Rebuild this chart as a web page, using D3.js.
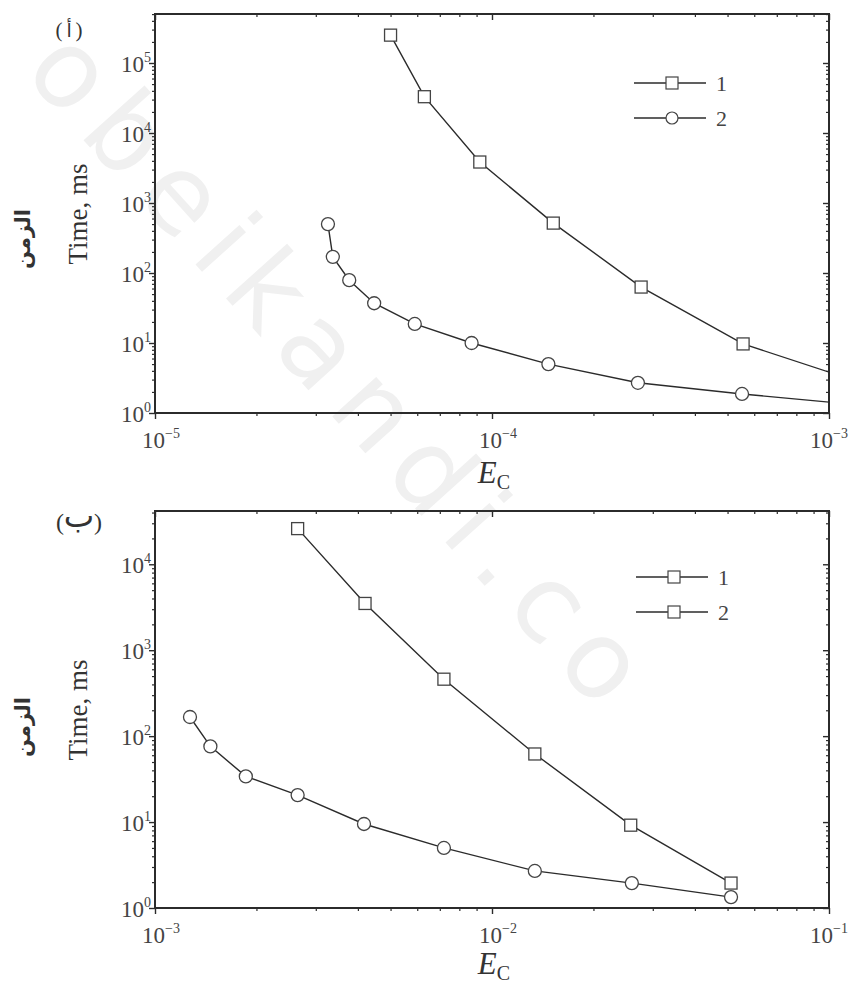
<!DOCTYPE html>
<html>
<head>
<meta charset="utf-8">
<script src="https://cdn.jsdelivr.net/npm/d3@7"></script>
<style>
  body { margin: 0; background: #fff; }
  svg { display: block; }
</style>
</head>
<body>
<svg id="chart"></svg>
<script>
// panel (a) — E_C vs time
const topEc1   = [5.0e-5, 6.3e-5, 9.2e-5, 1.52e-4, 2.77e-4, 5.56e-4, 1.1e-3];
const topTime1 = [2.5e5, 3.3e4, 3.85e3, 516, 63, 9.7, 3.3];
const topEc2   = [3.26e-5, 3.37e-5, 3.77e-5, 4.47e-5, 5.9e-5, 8.7e-5, 1.47e-4, 2.71e-4, 5.52e-4, 1.1e-3];
const topTime2 = [500, 170, 79, 37, 18.7, 10, 5.0, 2.7, 1.87, 1.37];

// panel (b)
const botEc1   = [2.65e-3, 4.2e-3, 7.2e-3, 1.34e-2, 2.58e-2, 5.12e-2];
const botTime1 = [2.6e4, 3.5e3, 460, 62, 9.2, 1.95];
const botEc2   = [1.27e-3, 1.46e-3, 1.86e-3, 2.65e-3, 4.17e-3, 7.2e-3, 1.34e-2, 2.6e-2, 5.12e-2];
const botTime2 = [167, 76, 34, 20.6, 9.5, 5.0, 2.7, 1.95, 1.34];

const legendLabels = ["1", "2"];

const width = 850, height = 987;
const svg = d3.select("#chart").attr("width", width).attr("height", height);

// watermark
svg.append("text")
  .attr("transform", "translate(22,72) rotate(48)")
  .attr("font-family", "DejaVu Sans, sans-serif")
  .attr("font-size", 108)
  .attr("letter-spacing", 16)
  .attr("fill", "#f0f0f0")
  .text("obeikandi.co");

const ink = "#2b2b2b";
const serif = "Liberation Serif, Times New Roman, serif";

function supLabel(sel, exp) {
  sel.append("tspan").text("10");
  sel.append("tspan").attr("font-size", 14).attr("dy", -10).text(exp);
}

function drawPanel(p) {
  const x = d3.scaleLog().domain(p.xDomain).range([p.left, p.right]);
  const y = d3.scaleLog().domain(p.yDomain).range([p.bottom, p.top]);
  const g = svg.append("g");

  const id = "clip" + p.name;
  svg.append("clipPath").attr("id", id).append("rect")
    .attr("x", p.left).attr("y", p.top)
    .attr("width", p.right - p.left).attr("height", p.bottom - p.top);

  const isMajor = v => Math.abs(Math.log10(v) - Math.round(Math.log10(v))) < 1e-6;
  const xt = x.ticks(), yt = y.ticks();
  const xMajor = xt.filter(isMajor), xMinor = xt.filter(v => !isMajor(v));
  const yMajor = yt.filter(isMajor), yMinor = yt.filter(v => !isMajor(v));

  const axes = [
    [d3.axisBottom(x), p.bottom, "x", 6, 3],
    [d3.axisTop(x), p.top, "x", -6, -3],
    [d3.axisLeft(y), p.left, "y", 6, 3],
    [d3.axisRight(y), p.right, "y", -6, -3]
  ];
  axes.forEach(([ax, pos, dim, big, small]) => {
    const major = dim === "x" ? xMajor : yMajor;
    const minor = dim === "x" ? xMinor : yMinor;
    const tr = dim === "x" ? `translate(0,${pos})` : `translate(${pos},0)`;
    g.append("g").attr("transform", tr)
      .call(ax.tickValues(minor).tickSize(small).tickFormat(""))
      .call(s => s.select(".domain").remove())
      .call(s => s.selectAll("line").attr("stroke", ink).attr("stroke-width", 1.2));
    g.append("g").attr("transform", tr)
      .call(ax.tickValues(major).tickSize(big).tickFormat(""))
      .call(s => s.select(".domain").remove())
      .call(s => s.selectAll("line").attr("stroke", ink).attr("stroke-width", 1.4));
  });

  g.append("rect")
    .attr("x", p.left).attr("y", p.top)
    .attr("width", p.right - p.left).attr("height", p.bottom - p.top)
    .attr("fill", "none").attr("stroke", ink).attr("stroke-width", 2);

  // tick labels (last one pushed inside the page edge)
  xMajor.forEach((v, i) => {
    const last = i === xMajor.length - 1;
    const t = g.append("text")
      .attr("x", last ? width - 2 : x(v) + 6).attr("y", p.bottom + 35)
      .attr("text-anchor", last ? "end" : "middle").attr("font-family", serif)
      .attr("font-size", 23).attr("fill", "#444");
    supLabel(t, String(Math.round(Math.log10(v))).replace("-", "\u2212"));
  });
  yMajor.forEach(v => {
    const t = g.append("text").attr("x", p.left - 4).attr("y", y(v) + 9)
      .attr("text-anchor", "end").attr("font-family", serif)
      .attr("font-size", 23).attr("fill", "#444");
    supLabel(t, String(Math.round(Math.log10(v))));
  });

  // axis titles
  const xl = g.append("text").attr("x", (p.left + p.right) / 2 + 2).attr("y", p.xTitleY)
    .attr("text-anchor", "middle").attr("font-family", serif).attr("fill", "#333");
  xl.append("tspan").attr("font-size", 31).attr("font-style", "italic").text("E");
  xl.append("tspan").attr("font-size", 20).attr("dy", 6).text("C");

  g.append("text")
    .attr("transform", `translate(87,${p.yTitleMid}) rotate(-90)`)
    .attr("text-anchor", "middle").attr("font-family", serif)
    .attr("font-size", 27).attr("fill", "#333").text("Time, ms");
  g.append("text")
    .attr("transform", `translate(30,${p.arMid}) rotate(-90)`)
    .attr("text-anchor", "middle").attr("font-family", "DejaVu Sans, sans-serif")
    .attr("font-weight", "bold").attr("font-size", 21).attr("fill", "#333").text("الزمن");

  // panel tag: brackets drawn apart from the letter so bidi doesn't move them
  const tag = g.append("g").attr("font-family", serif).attr("fill", "#333")
    .attr("font-size", p.tagSize);
  tag.append("text").attr("x", p.tagX - p.tagGap).attr("y", p.tagY)
    .attr("text-anchor", "middle").text("(");
  tag.append("text").attr("x", p.tagX).attr("y", p.tagY + p.tagDy)
    .attr("text-anchor", "middle").attr("font-family", "DejaVu Sans, sans-serif")
    .attr("font-size", p.tagSize * p.tagScale).text(p.tag);
  tag.append("text").attr("x", p.tagX + p.tagGap).attr("y", p.tagY)
    .attr("text-anchor", "middle").text(")");

  // series
  const line = d3.line().x(d => x(d[0])).y(d => y(d[1]));
  const plot = g.append("g").attr("clip-path", `url(#${id})`);
  p.series.forEach(s => {
    const pts = d3.zip(s.ec, s.time);
    plot.append("path").datum(pts).attr("d", line)
      .attr("fill", "none").attr("stroke", ink).attr("stroke-width", 1.4);
    const m = plot.selectAll(null).data(pts).enter();
    if (s.shape === "square") {
      m.append("rect")
        .attr("x", d => x(d[0]) - 6).attr("y", d => y(d[1]) - 6)
        .attr("width", 12).attr("height", 12)
        .attr("fill", "#fff").attr("stroke", "#444").attr("stroke-width", 1.3);
    } else {
      m.append("circle")
        .attr("cx", d => x(d[0])).attr("cy", d => y(d[1])).attr("r", 6.5)
        .attr("fill", "#fff").attr("stroke", "#444").attr("stroke-width", 1.3);
    }
  });

  // legend
  const lg = g.append("g").attr("transform", `translate(${p.legX},${p.legY})`);
  legendLabels.forEach((lab, i) => {
    const yy = i * 35;
    lg.append("line").attr("x1", 0).attr("x2", 72).attr("y1", yy).attr("y2", yy)
      .attr("stroke", ink).attr("stroke-width", 1.3);
    if (p.legendShapes[i] === "square") {
      lg.append("rect").attr("x", 32).attr("y", yy - 6).attr("width", 12).attr("height", 12)
        .attr("fill", "#fff").attr("stroke", "#444").attr("stroke-width", 1.2);
    } else {
      lg.append("circle").attr("cx", 38).attr("cy", yy).attr("r", 6)
        .attr("fill", "#fff").attr("stroke", "#444").attr("stroke-width", 1.2);
    }
    lg.append("text").attr("x", 82).attr("y", yy + 8)
      .attr("font-family", serif).attr("font-size", 22).attr("fill", "#444").text(lab);
  });
}

drawPanel({
  name: "a", left: 155, right: 829, top: 14, bottom: 413,
  xDomain: [1e-5, 1e-3], yDomain: [1, Math.pow(10, 5.7)],
  xTitleY: 483, yTitleMid: 214, arMid: 239,
  tag: "أ", tagX: 69, tagY: 37, tagSize: 21, tagGap: 10, tagScale: 0.9, tagDy: 0,
  legX: 634, legY: 83, legendShapes: ["square", "circle"],
  series: [
    { ec: topEc1, time: topTime1, shape: "square" },
    { ec: topEc2, time: topTime2, shape: "circle" }
  ]
});

drawPanel({
  name: "b", left: 155, right: 829, top: 511, bottom: 908,
  xDomain: [1e-3, 1e-1], yDomain: [1, Math.pow(10, 4.62)],
  xTitleY: 974, yTitleMid: 710, arMid: 727,
  tag: "ب", tagX: 79, tagY: 530, tagSize: 24, tagGap: 19, tagScale: 1.35, tagDy: -3,
  legX: 636, legY: 577, legendShapes: ["square", "square"],
  series: [
    { ec: botEc1, time: botTime1, shape: "square" },
    { ec: botEc2, time: botTime2, shape: "circle" }
  ]
});
</script>
</body>
</html>
